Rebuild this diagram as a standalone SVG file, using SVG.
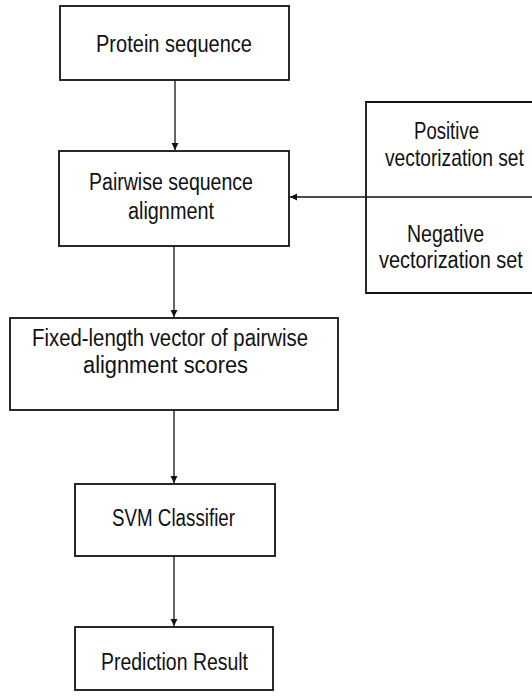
<svg xmlns="http://www.w3.org/2000/svg" width="532" height="698" viewBox="0 0 532 698">
<defs>
<style>
.box{fill:#fff;stroke:#111;stroke-width:1.8}
.t{font-family:"Liberation Sans",Arial,sans-serif;font-size:23px;fill:#111}
.c{stroke:#111;stroke-width:1.3;fill:none}
</style>
<marker id="ah" markerWidth="8" markerHeight="8" refX="7" refY="4" orient="auto" markerUnits="userSpaceOnUse">
<path d="M0,0.5 L7,4 L0,7.5 Z" fill="#111"/>
</marker>
</defs>
<rect width="532" height="698" fill="#fff"/>
<g id="n1">
<rect class="box" x="60" y="6" width="229" height="74"/>
<text class="t" x="96" y="52" textLength="156" lengthAdjust="spacingAndGlyphs">Protein sequence</text>
</g>
<g id="n2">
<rect class="box" x="59" y="151" width="230" height="95"/>
<text class="t" x="89" y="190" textLength="164" lengthAdjust="spacingAndGlyphs">Pairwise sequence</text>
<text class="t" x="128" y="219" textLength="86" lengthAdjust="spacingAndGlyphs">alignment</text>
</g>
<g id="n3">
<path class="box" d="M532,102 H366 V293 H532"/>
<text class="t" x="414" y="139" textLength="65" lengthAdjust="spacingAndGlyphs">Positive</text>
<text class="t" transform="translate(385,166) scale(0.836,1)">vectorization set</text>
<text class="t" x="407" y="242" textLength="77" lengthAdjust="spacingAndGlyphs">Negative</text>
<text class="t" transform="translate(379,268) scale(0.866,1)">vectorization set</text>
</g>
<g id="n4">
<rect class="box" x="10" y="318" width="328" height="92"/>
<text class="t" x="32" y="346" textLength="276" lengthAdjust="spacingAndGlyphs">Fixed-length vector of pairwise</text>
<text class="t" x="83" y="373" textLength="165" lengthAdjust="spacingAndGlyphs">alignment scores</text>
</g>
<g id="n5">
<rect class="box" x="75" y="484" width="200" height="72"/>
<text class="t" x="112" y="526" textLength="123" lengthAdjust="spacingAndGlyphs">SVM Classifier</text>
</g>
<g id="n6">
<rect class="box" x="75" y="627" width="198" height="63"/>
<text class="t" x="101" y="670" textLength="147" lengthAdjust="spacingAndGlyphs">Prediction Result</text>
</g>
<g id="connectors">
<line class="c" x1="175" y1="80" x2="175" y2="150" marker-end="url(#ah)"/>
<line class="c" x1="174" y1="246" x2="174" y2="317" marker-end="url(#ah)"/>
<line class="c" x1="174" y1="410" x2="174" y2="483" marker-end="url(#ah)"/>
<line class="c" x1="174" y1="556" x2="174" y2="626" marker-end="url(#ah)"/>
<line class="c" x1="532" y1="197" x2="290" y2="197" marker-end="url(#ah)"/>
</g>
</svg>
